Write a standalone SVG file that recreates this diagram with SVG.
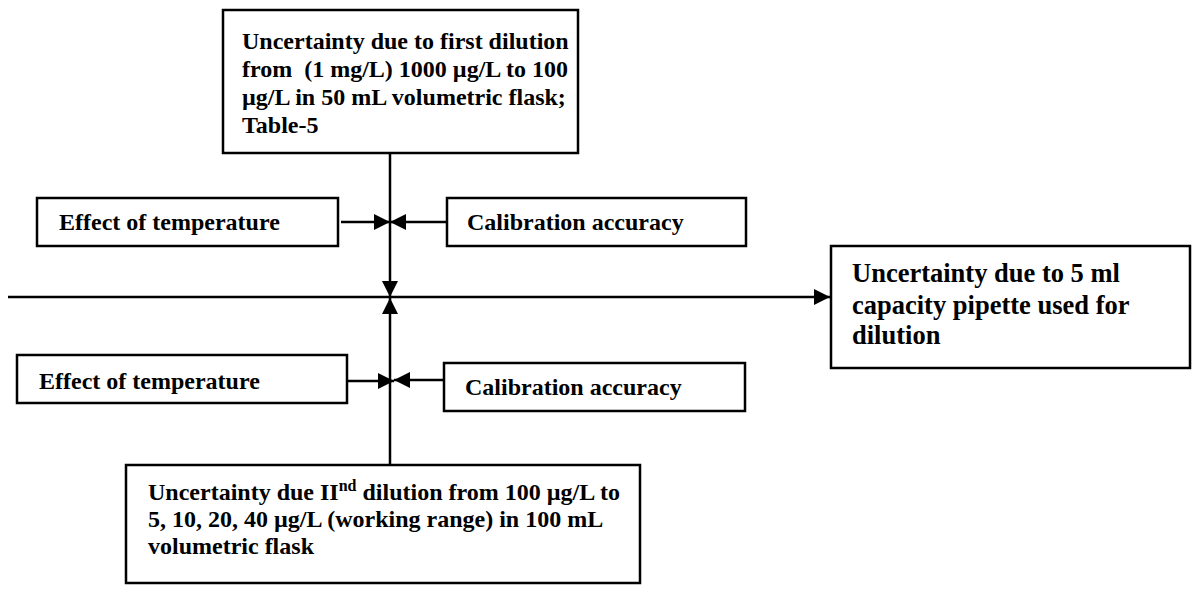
<svg xmlns="http://www.w3.org/2000/svg" width="1200" height="596" viewBox="0 0 1200 596">
<style>
.box{fill:#fff;stroke:#000;stroke-width:2.5}
.t{font-family:"Liberation Serif","Times New Roman",serif;font-weight:bold;font-size:24px;fill:#000}
.tl{font-family:"Liberation Serif","Times New Roman",serif;font-weight:bold;font-size:26.5px;fill:#000}
.c{stroke:#000;stroke-width:2.5;fill:none}
</style>
<defs>
<marker id="ah" viewBox="0 0 10 10" refX="10" refY="5" markerWidth="6.4" markerHeight="6.4" markerUnits="strokeWidth" orient="auto">
<path d="M0,0 L10,5 L0,10 Z" fill="#000"/>
</marker>
</defs>
<rect width="1200" height="596" fill="#fff"/>
<g id="connectors">
<line class="c" x1="390" y1="153" x2="390" y2="297" marker-end="url(#ah)"/>
<line class="c" x1="390" y1="465" x2="390" y2="298" marker-end="url(#ah)"/>
<line class="c" x1="8" y1="297" x2="830" y2="297" marker-end="url(#ah)"/>
<line class="c" x1="341" y1="222" x2="390" y2="222" marker-end="url(#ah)"/>
<line class="c" x1="447" y1="222" x2="390" y2="222" marker-end="url(#ah)"/>
<line class="c" x1="347" y1="381" x2="394" y2="381" marker-end="url(#ah)"/>
<line class="c" x1="444" y1="380" x2="394" y2="380" marker-end="url(#ah)"/>
</g>
<g id="n-first-dilution">
<rect class="box" x="223" y="10" width="355" height="143"/>
<text class="t"><tspan x="242" y="49">Uncertainty due to first dilution</tspan><tspan x="242" y="77">from &#160;(1 mg/L) 1000 µg/L to 100</tspan><tspan x="242" y="105">µg/L in 50 mL volumetric flask;</tspan><tspan x="242" y="133">Table-5</tspan></text>
</g>
<g id="n-temp1">
<rect class="box" x="37" y="198" width="301" height="48"/>
<text class="t" x="59" y="230">Effect of temperature</text>
</g>
<g id="n-cal1">
<rect class="box" x="447" y="198" width="299" height="48"/>
<text class="t" x="467" y="230">Calibration accuracy</text>
</g>
<g id="n-pipette">
<rect class="box" x="831" y="246" width="359" height="122"/>
<text class="tl"><tspan x="852" y="282">Uncertainty due to 5 ml</tspan><tspan x="852" y="314">capacity pipette used for</tspan><tspan x="852" y="344">dilution</tspan></text>
</g>
<g id="n-temp2">
<rect class="box" x="17" y="355" width="330" height="48"/>
<text class="t" x="39" y="389">Effect of temperature</text>
</g>
<g id="n-cal2">
<rect class="box" x="444" y="363" width="301" height="48"/>
<text class="t" x="465" y="395">Calibration accuracy</text>
</g>
<g id="n-second-dilution">
<rect class="box" x="126" y="465" width="514" height="118"/>
<text class="t"><tspan x="148" y="500">Uncertainty due II</tspan><tspan dy="-9" font-size="16">nd</tspan><tspan dy="9"> dilution from 100 µg/L to</tspan><tspan x="148" y="527">5, 10, 20, 40 µg/L (working range) in 100 mL</tspan><tspan x="148" y="554">volumetric flask</tspan></text>
</g>
</svg>
